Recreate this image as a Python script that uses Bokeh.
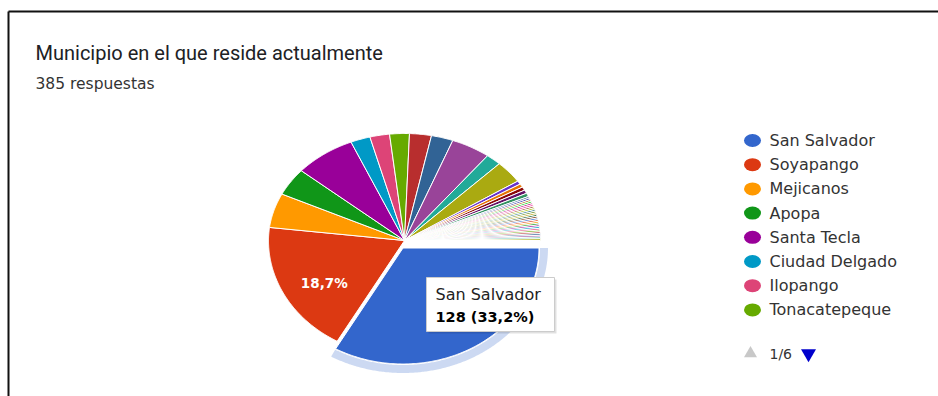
import numpy as np
from bokeh.plotting import figure
from bokeh.models import Range1d, Label, ColumnDataSource
from bokeh.core.properties import value
from bokeh.embed import file_html
from bokeh.resources import INLINE

titulo = "Municipio en el que reside actualmente"
subtitulo = "385 respuestas"

municipios = [
    "San Salvador", "Soyapango", "Mejicanos", "Apopa", "Santa Tecla",
    "Ciudad Delgado", "Ilopango", "Tonacatepeque", "Cuscatancingo", "Ayutuxtepeque",
    "Antiguo Cuscatlán", "San Martín", "Santo Tomás", "San Marcos", "Panchimalco",
    "Nejapa", "Santiago Texacuangos", "Colón", "Quezaltepeque", "Santa Ana",
    "San Miguel", "La Libertad", "Cojutepeque", "Zacatecoluca", "San Vicente",
    "Sonsonate", "Usulután", "Ahuachapán", "Chalatenango", "Olocuilta",
    "San Juan Opico", "Ciudad Arce", "Huizúcar", "Nuevo Cuscatlán", "Rosario de Mora",
    "Aguilares", "Guazapa", "El Paisnal", "San Pedro Perulapán", "Santa Cruz Michapa",
    "San Luis Talpa", "Comasagua", "Tepecoyo", "Zaragoza",
]
respuestas = [
    128, 72, 20, 16, 28,
    9, 9, 9, 10, 10,
    18, 7, 13, 2, 2,
    2, 2, 2, 1, 1,
    1, 1, 1, 1, 1,
    1, 1, 1, 1, 1,
    1, 1, 1, 1, 1,
    1, 1, 1, 1, 1,
    1, 1, 1, 1,
]
paleta = [
    "#3366cc", "#dc3912", "#ff9900", "#109618", "#990099", "#0099c6", "#dd4477",
    "#66aa00", "#b82e2e", "#316395", "#994499", "#22aa99", "#aaaa11", "#6633cc",
    "#e67300", "#8b0707", "#651067", "#329262", "#5574a6", "#3b3eac", "#b77322",
    "#16d620", "#b91383", "#f4359e", "#9c5935", "#a9c413", "#2a778d", "#668d1c",
    "#bea413", "#0c5922", "#743411",
]
destacado = 0          # slice under the tooltip
etiqueta_idx = 1       # slice with percentage label
leyenda_n = 8
pagina = "1/6"

W, H = 938, 396
p = figure(width=W, height=H, output_backend="svg", toolbar_location=None,
           x_range=Range1d(0, W), y_range=Range1d(H, 0), min_border=0)
p.axis.visible = False
p.grid.visible = False
p.outline_line_color = None
p.background_fill_color = "white"
p.border_fill_color = "white"

# frame lines
p.segment(x0=[8, 8], y0=[11, 11], x1=[W, 8], y1=[11, H], line_color="#111111", line_width=2)

# titles
p.add_layout(Label(x=35, y=52, text=titulo, text_font="Roboto", text_font_size="20px",
                   text_color="#202124", text_baseline="alphabetic"))
p.add_layout(Label(x=35, y=83, text=subtitulo, text_font="DejaVu Sans", text_font_size="15.5px",
                   text_color="#333333", text_baseline="alphabetic"))

# pie (slightly distorted ellipse as in the picture)
cx, cy = 404, 240
rx, ry_top, ry_bot = 136, 107, 116
vals = np.array(respuestas, dtype=float)
total = vals.sum()
ang = np.concatenate([[0], np.cumsum(vals) / total * 2 * np.pi])
cols = [paleta[i % len(paleta)] for i in range(len(vals))]

def arc_pts(a0, a1, grow=0.0, ox=0.0, oy=0.0):
    n = max(2, int(np.degrees(a1 - a0) * 2) + 2)
    t = np.linspace(a0, a1, n)
    s = np.sin(t)
    ry = np.where(s > 0, ry_bot, ry_top) + grow
    return list(ox + cx + (rx + grow) * np.cos(t)), list(oy + cy + ry * s)

OFF = (-1.5, 7.5)
xs, ys = [], []
for i in range(len(vals)):
    a0, a1 = ang[i], ang[i + 1]
    ox, oy = OFF if i == destacado else (0.0, 0.0)
    ax, ay = arc_pts(a0, a1, 0, ox, oy)
    xs.append([cx + ox] + ax)
    ys.append([cy + oy] + ay)

order = [i for i in range(len(vals)) if i != destacado] + [destacado]
src = ColumnDataSource(dict(xs=[xs[i] for i in order], ys=[ys[i] for i in order],
                            color=[cols[i] for i in order]))

# halo for the highlighted slice
a0, a1 = ang[destacado], ang[destacado + 1]
hx1, hy1 = arc_pts(a0, a1, 1, *OFF)
hx2, hy2 = arc_pts(a0, a1, 9, *OFF)
p.patch(hx2 + hx1[::-1], hy2 + hy1[::-1], fill_color="#3366cc", fill_alpha=0.25, line_color=None)

p.patches("xs", "ys", source=src, fill_color="color", line_color="white", line_width=1)

# percentage label on Soyapango
a0, a1 = ang[etiqueta_idx], ang[etiqueta_idx + 1]
mid = (a0 + a1) / 2
pct = respuestas[etiqueta_idx] / total * 100
p.text(x=[cx + 0.66 * rx * np.cos(mid)], y=[cy + 0.66 * ry_bot * np.sin(mid) + 8],
       text=[f"{pct:.1f}%".replace(".", ",")], text_color="white",
       text_font=value("DejaVu Sans"), text_font_size="13.5px", text_font_style="bold",
       text_align="center", text_baseline="middle")

# tooltip
p.quad(left=[428], right=[556], top=[279], bottom=[333], fill_color="#000000", fill_alpha=0.12,
       line_color=None)
p.quad(left=[426], right=[554], top=[277], bottom=[331], fill_color="white",
       line_color="#cccccc", line_width=1)
dv = respuestas[destacado]
p.text(x=[435], y=[294], text=[municipios[destacado]], text_color="#222222",
       text_font=value("DejaVu Sans"), text_font_size="16px", text_baseline="middle")
p.text(x=[435], y=[316], text=[f"{dv} ({dv / total * 100:.1f}%)".replace(".", ",")],
       text_color="#000000", text_font=value("DejaVu Sans"), text_font_size="14.5px",
       text_font_style="bold", text_baseline="middle")

# legend
ly0, ldy = 140, 24.2
ly = [ly0 + k * ldy for k in range(leyenda_n)]
p.ellipse(x=[752] * leyenda_n, y=ly, width=17, height=13, width_units="screen",
          height_units="screen", fill_color=cols[:leyenda_n], line_color=None)
p.text(x=[769] * leyenda_n, y=ly, text=municipios[:leyenda_n], text_color="#333333",
       text_font=value("DejaVu Sans"), text_font_size="16px", text_baseline="middle")

py = 353
p.scatter(x=[750], y=[py], marker="triangle", size=13, fill_color="#c8c8c8", line_color=None)
p.scatter(x=[808], y=[py], marker="inverted_triangle", size=15, fill_color="#0000cc", line_color=None)
p.text(x=[769], y=[py], text=[pagina], text_color="#333333", text_font=value("DejaVu Sans"),
       text_font_size="14px", text_baseline="middle")

open("out.html", "w").write(file_html(p, INLINE))
